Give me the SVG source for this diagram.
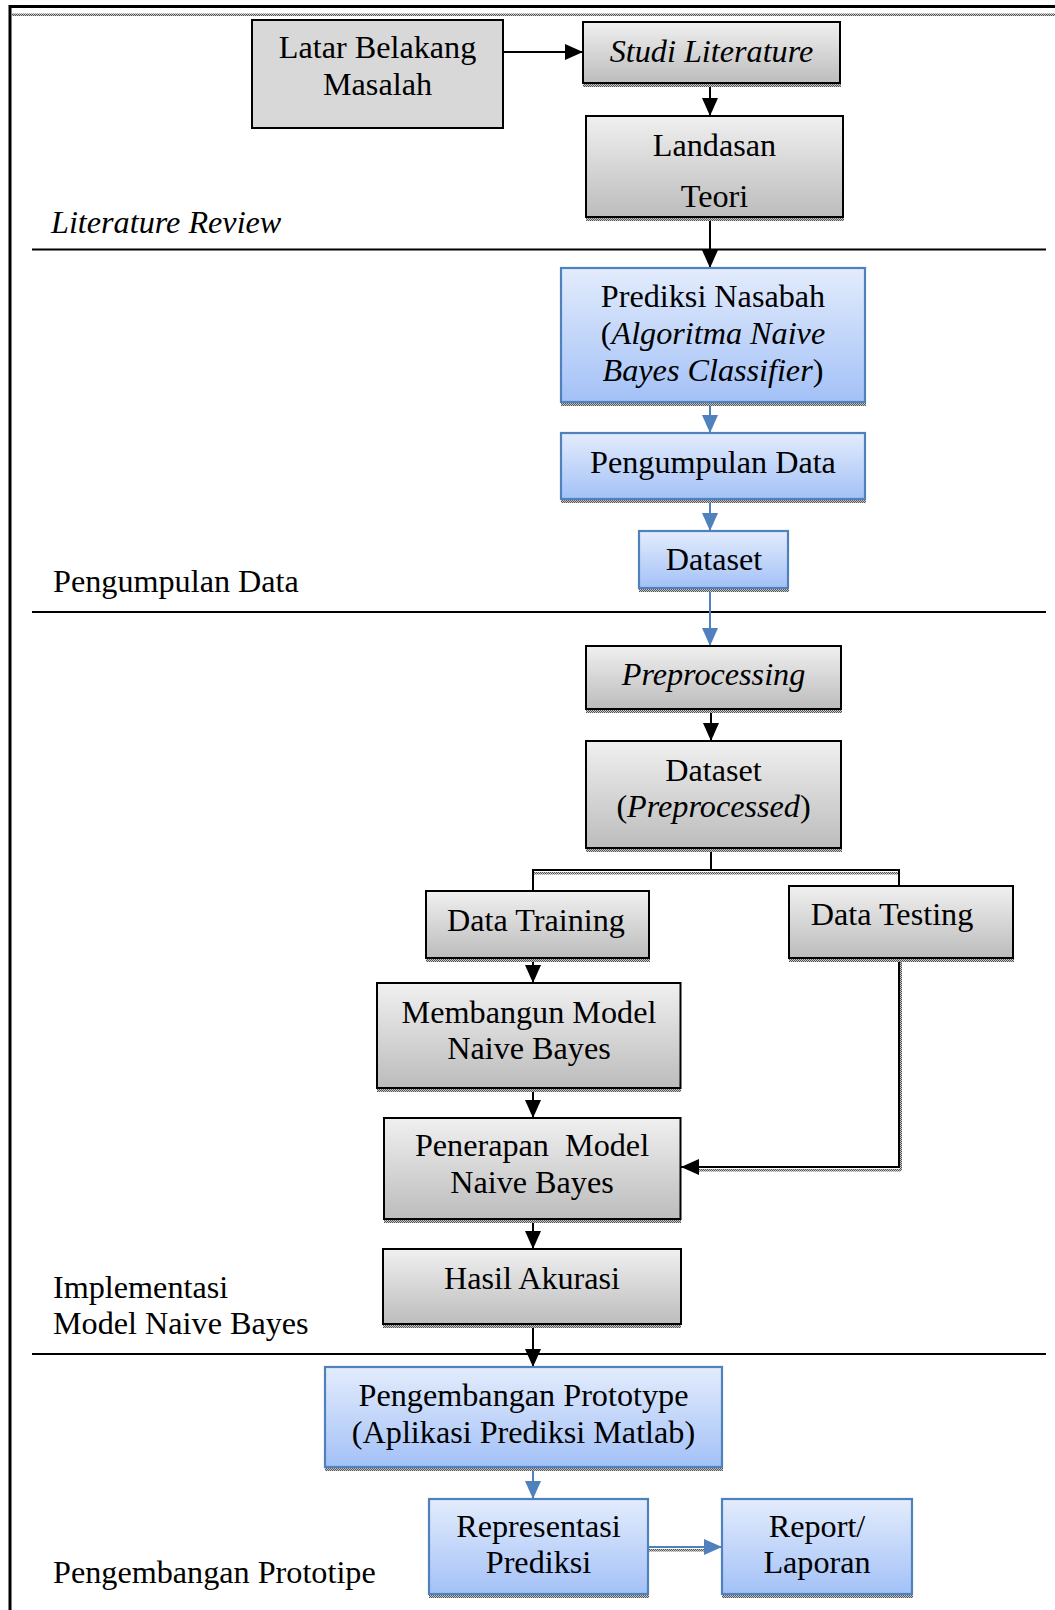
<svg xmlns="http://www.w3.org/2000/svg" width="1055" height="1610" viewBox="0 0 1055 1610">
<defs>
<linearGradient id="gGray" x1="0" y1="0" x2="0" y2="1"><stop offset="0" stop-color="#f0f0f0"/><stop offset="1" stop-color="#bcbcbc"/></linearGradient>
<linearGradient id="gBlue" x1="0" y1="0" x2="0" y2="1"><stop offset="0" stop-color="#e3ecfc"/><stop offset="1" stop-color="#a3c1f7"/></linearGradient>
<pattern id="hatch" width="2" height="2" patternUnits="userSpaceOnUse"><rect width="2" height="2" fill="#c8c8c8"/><rect width="1" height="1" fill="#555"/><rect x="1" y="1" width="1" height="1" fill="#555"/></pattern>
<marker id="ab" markerUnits="userSpaceOnUse" markerWidth="18" markerHeight="16" refX="18" refY="8" orient="auto"><path d="M0,0 L18,8 L0,16 z" fill="#000"/></marker>
<marker id="abl" markerUnits="userSpaceOnUse" markerWidth="18" markerHeight="16" refX="18" refY="8" orient="auto"><path d="M0,0 L18,8 L0,16 z" fill="#4f81bd"/></marker>
</defs>
<style>
text{font-family:"Liberation Serif","Times New Roman",serif;font-size:32.2px;fill:#000}
.c{text-anchor:middle}
.i{font-style:italic}
.gray{fill:url(#gGray);stroke:#000;stroke-width:2}
.blue{fill:url(#gBlue);stroke:#4f81bd;stroke-width:2.2}
.flat{fill:#d8d8d8;stroke:#000;stroke-width:2}
.sh{fill:url(#hatch)}
.sec{stroke:#000;stroke-width:2.2;fill:none}
.k{stroke:#000;stroke-width:2;fill:none}
.kb{stroke:#4f81bd;stroke-width:2;fill:none}
</style>

<g id="frame">
<line x1="9" y1="6.5" x2="1055" y2="6.5" stroke="#000" stroke-width="3"/>
<line x1="10" y1="5" x2="10" y2="1610" stroke="#000" stroke-width="3"/>
<rect x="12" y="13.5" width="1043" height="2.5" class="sh"/>
</g>

<g id="sections">
<line class="sec" x1="32" y1="249.5" x2="1046" y2="249.5"/>
<line class="sec" x1="32" y1="612" x2="1046" y2="612"/>
<line class="sec" x1="32" y1="1354" x2="1046" y2="1354"/>
<text x="51" y="233" class="i">Literature Review</text>
<text x="53" y="592">Pengumpulan Data</text>
<text x="53" y="1298">Implementasi</text>
<text x="53" y="1334">Model Naive Bayes</text>
<text x="53" y="1583">Pengembangan Prototipe</text>
</g>

<g id="connectors">
<line class="k" x1="503" y1="52" x2="583" y2="52" marker-end="url(#ab)"/>
<line class="k" x1="710" y1="84" x2="710" y2="116" marker-end="url(#ab)"/>
<line class="k" x1="710" y1="218" x2="710" y2="268" marker-end="url(#ab)"/>
<line class="kb" x1="710" y1="403" x2="710" y2="433" marker-end="url(#abl)"/>
<line class="kb" x1="710" y1="500" x2="710" y2="531" marker-end="url(#abl)"/>
<line class="kb" x1="710" y1="589" x2="710" y2="646" marker-end="url(#abl)"/>
<line class="k" x1="711" y1="710" x2="711" y2="741" marker-end="url(#ab)"/>
<rect x="534" y="872" width="366" height="2.5" class="sh"/>
<polyline class="k" points="711,849 711,870"/>
<polyline class="k" points="533,891 533,870 899,870 899,886"/>
<line class="k" x1="533" y1="959" x2="533" y2="983" marker-end="url(#ab)"/>
<line class="k" x1="533" y1="1089" x2="533" y2="1118" marker-end="url(#ab)"/>
<rect x="696" y="1169" width="205" height="2.5" class="sh"/>
<rect x="900" y="960" width="2" height="210" class="sh"/>
<polyline class="k" points="899,959 899,1167 681,1167" marker-end="url(#ab)"/>
<line class="k" x1="533" y1="1220" x2="533" y2="1249" marker-end="url(#ab)"/>
<line class="k" x1="533" y1="1325" x2="533" y2="1367" marker-end="url(#ab)"/>
<line class="kb" x1="533" y1="1468" x2="533" y2="1499" marker-end="url(#abl)"/>
<rect x="649" y="1549" width="58" height="2.5" class="sh"/>
<line class="kb" x1="649" y1="1547" x2="722" y2="1547" stroke-width="2.5" marker-end="url(#abl)"/>
</g>

<g id="latar">
<rect class="flat" x="252" y="20" width="251" height="108"/>
<text class="c" x="377.5" y="58">Latar Belakang</text>
<text class="c" x="377.5" y="95">Masalah</text>
</g>

<g id="studi">
<rect class="sh" x="583" y="84" width="258" height="3"/>
<rect class="gray" x="583" y="22" width="257" height="61"/>
<text class="c i" x="711.5" y="62">Studi Literature</text>
</g>

<g id="landasan">
<rect class="sh" x="586" y="218" width="258" height="3"/>
<rect class="gray" x="586" y="116" width="257" height="101"/>
<text class="c" x="714.5" y="156">Landasan</text>
<text class="c" x="714.5" y="207">Teori</text>
</g>

<g id="prediksi">
<rect class="sh" x="561" y="403" width="305" height="3"/>
<rect class="blue" x="561" y="268" width="304" height="134"/>
<text class="c" x="713" y="307">Prediksi Nasabah</text>
<text class="c" x="713" y="344">(<tspan class="i">Algoritma Naive</tspan></text>
<text class="c" x="713" y="381"><tspan class="i">Bayes Classifier</tspan>)</text>
</g>

<g id="pengumpulan">
<rect class="sh" x="561" y="500" width="305" height="3"/>
<rect class="blue" x="561" y="433" width="304" height="66"/>
<text class="c" x="713" y="473">Pengumpulan Data</text>
</g>

<g id="dataset">
<rect class="sh" x="639" y="589" width="150" height="3"/>
<rect class="blue" x="639" y="531" width="149" height="57"/>
<text class="c" x="714" y="570">Dataset</text>
</g>

<g id="preprocessing">
<rect class="sh" x="586" y="710" width="256" height="3"/>
<rect class="gray" x="586" y="646" width="255" height="63"/>
<text class="c i" x="713.5" y="685">Preprocessing</text>
</g>

<g id="dataset-pre">
<rect class="sh" x="586" y="849" width="256" height="3"/>
<rect class="gray" x="586" y="741" width="255" height="107"/>
<text class="c" x="713.5" y="781">Dataset</text>
<text class="c" x="713.5" y="817">(<tspan class="i">Preprocessed</tspan>)</text>
</g>

<g id="training">
<rect class="sh" x="426" y="959" width="224" height="3"/>
<rect class="gray" x="426" y="891" width="223" height="67"/>
<text class="c" x="536" y="931">Data Training</text>
</g>

<g id="testing">
<rect class="sh" x="789" y="959" width="225" height="3"/>
<rect class="gray" x="789" y="886" width="224" height="72"/>
<text class="c" x="892" y="925">Data Testing</text>
</g>

<g id="membangun">
<rect class="sh" x="377" y="1089" width="304" height="3"/>
<rect class="gray" x="377" y="983" width="303.5" height="105"/>
<text class="c" x="529" y="1023">Membangun Model</text>
<text class="c" x="529" y="1059">Naive Bayes</text>
</g>

<g id="penerapan">
<rect class="sh" x="384" y="1220" width="297" height="3"/>
<rect class="gray" x="384" y="1118" width="296.5" height="101"/>
<text class="c" x="532" y="1156" style="white-space:pre">Penerapan  Model</text>
<text class="c" x="532" y="1193">Naive Bayes</text>
</g>

<g id="hasil">
<rect class="sh" x="383" y="1325" width="298" height="3"/>
<rect class="gray" x="383" y="1249" width="298" height="75"/>
<text class="c" x="532" y="1289">Hasil Akurasi</text>
</g>

<g id="prototype">
<rect class="sh" x="325" y="1468" width="398" height="3"/>
<rect class="blue" x="325" y="1367" width="397" height="100"/>
<text class="c" x="523.5" y="1406">Pengembangan Prototype</text>
<text class="c" x="523.5" y="1443">(Aplikasi Prediksi Matlab)</text>
</g>

<g id="representasi">
<rect class="sh" x="429" y="1595" width="220" height="3"/>
<rect class="blue" x="429" y="1499" width="219" height="95"/>
<text class="c" x="538.5" y="1537">Representasi</text>
<text class="c" x="538.5" y="1573">Prediksi</text>
</g>

<g id="report">
<rect class="sh" x="722" y="1595" width="191" height="3"/>
<rect class="blue" x="722" y="1499" width="190" height="95"/>
<text class="c" x="817" y="1537">Report/</text>
<text class="c" x="817" y="1573">Laporan</text>
</g>
</svg>
